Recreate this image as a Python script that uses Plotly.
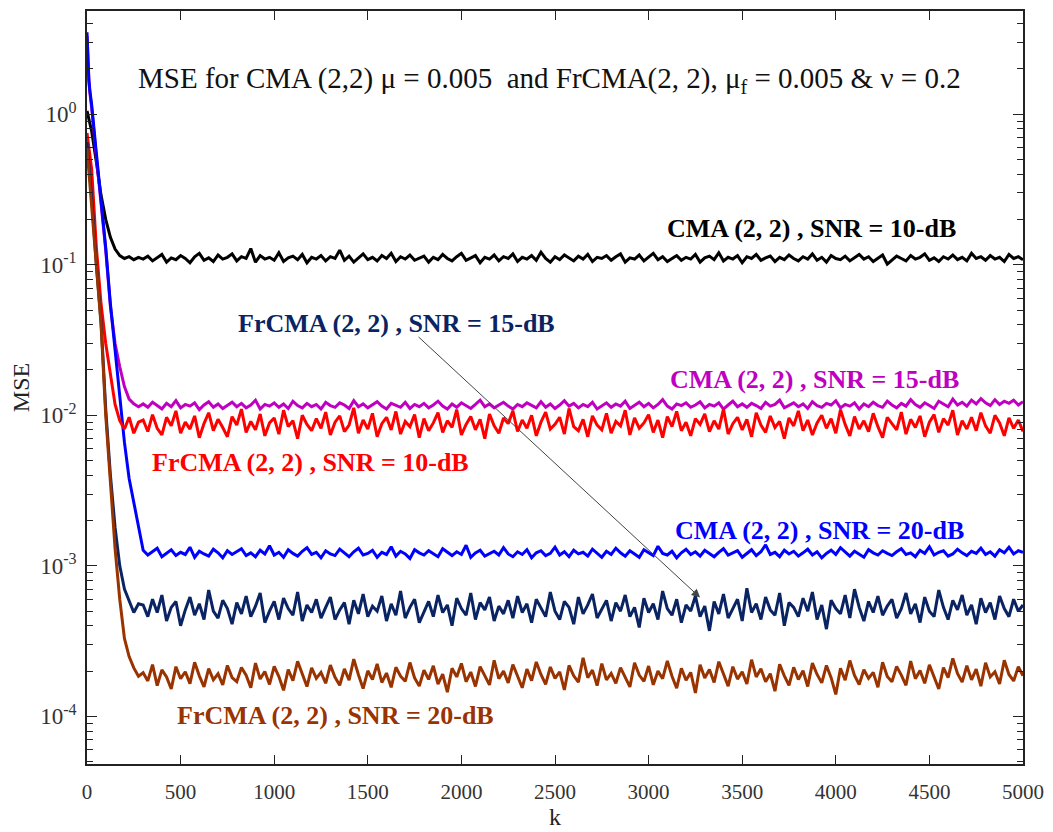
import plotly.graph_objects as go

# Iteration index: a few dense early samples, then every 25 iterations.
K_EARLY = [0, 5, 10, 15, 20]
K_STEP = 25
K_END = 5000
k = K_EARLY + list(range(25, K_END + 1, K_STEP))

# Learning curves (MSE), k = 0, 5, 10, 15, 20, 25, 50, ..., 275 (convergence phase)
CMA_10_TRANS = [1.05, 0.98, 0.92, 0.86, 0.81, 0.77, 0.48, 0.29, 0.20, 0.152, 0.127, 0.115, 0.110, 0.113, 0.108, 0.112]
CMA_15_TRANS = [3.3, 2.1, 1.65, 1.4, 1.25, 1.1, 0.52, 0.26, 0.125, 0.053, 0.030, 0.021, 0.0155, 0.0128, 0.0119, 0.0114]
CMA_20_TRANS = [3.5, 2.2, 1.7, 1.45, 1.3, 1.15, 0.55, 0.27, 0.13, 0.055, 0.027, 0.013, 0.0066, 0.0038, 0.0026, 0.0018]
FR_10_TRANS = [0.75, 0.68, 0.60, 0.54, 0.48, 0.43, 0.13, 0.055, 0.030, 0.019, 0.0118, 0.0092, 0.0081, 0.0097, 0.0076, 0.0090]
FR_15_TRANS = [0.65, 0.55, 0.47, 0.40, 0.33, 0.28, 0.10, 0.042, 0.011, 0.0040, 0.0018, 0.0010, 0.00070, 0.00058, 0.00049, 0.00056]
FR_20_TRANS = [0.60, 0.50, 0.43, 0.37, 0.31, 0.27, 0.095, 0.040, 0.010, 0.0036, 0.0013, 0.00060, 0.00033, 0.00025, 0.00021, 0.000185]

# Steady-state MSE, k = 300 ... 5000
CMA_10_SS = [
    0.109, 0.114, 0.106, 0.112, 0.117, 0.104, 0.111, 0.108, 0.115, 0.110, 0.103, 0.113, 0.119, 0.107, 0.111, 0.105, 0.116, 0.109, 0.112, 0.118,
    0.106, 0.113, 0.110, 0.128, 0.104, 0.115, 0.109, 0.112, 0.107, 0.120, 0.105, 0.111, 0.114, 0.108, 0.117, 0.103, 0.112, 0.109, 0.115, 0.106,
    0.113, 0.110, 0.125, 0.107, 0.114, 0.104, 0.111, 0.118, 0.108, 0.112, 0.106, 0.115, 0.110, 0.119, 0.105, 0.113, 0.109, 0.116, 0.107, 0.111,
    0.114, 0.104, 0.112, 0.108, 0.117, 0.110, 0.106, 0.113, 0.119, 0.107, 0.111, 0.115, 0.103, 0.112, 0.109, 0.116, 0.106, 0.113, 0.110, 0.118,
    0.105, 0.112, 0.109, 0.115, 0.107, 0.121, 0.110, 0.104, 0.113, 0.108, 0.116, 0.111, 0.106, 0.114, 0.109, 0.117, 0.105, 0.112, 0.110, 0.115,
    0.107, 0.113, 0.118, 0.104, 0.111, 0.109, 0.116, 0.106, 0.112, 0.119, 0.108, 0.113, 0.105, 0.110, 0.115, 0.107, 0.112, 0.109, 0.117, 0.104,
    0.111, 0.114, 0.108, 0.120, 0.106, 0.112, 0.109, 0.115, 0.103, 0.113, 0.110, 0.117, 0.107, 0.111, 0.114, 0.105, 0.112, 0.108, 0.116, 0.110,
    0.106, 0.113, 0.109, 0.118, 0.107, 0.112, 0.104, 0.115, 0.110, 0.108, 0.114, 0.106, 0.111, 0.117, 0.109, 0.113, 0.105, 0.110, 0.116, 0.101,
    0.108, 0.114, 0.110, 0.106, 0.115, 0.109, 0.112, 0.118, 0.107, 0.111, 0.105, 0.113, 0.109, 0.116, 0.108, 0.112, 0.106, 0.119, 0.110, 0.113,
    0.107, 0.115, 0.109, 0.112, 0.105, 0.117, 0.110, 0.113, 0.108,
]
CMA_15_SS = [
    0.0119, 0.0113, 0.0122, 0.0116, 0.0110, 0.0120, 0.0114, 0.0125, 0.0112, 0.0118, 0.0115, 0.0121, 0.0109, 0.0117, 0.0123, 0.0113, 0.0119, 0.0111, 0.0116, 0.0122,
    0.0114, 0.0120, 0.0112, 0.0117, 0.0126, 0.0110, 0.0118, 0.0115, 0.0121, 0.0113, 0.0119, 0.0111, 0.0124, 0.0116, 0.0112, 0.0120, 0.0114, 0.0118, 0.0110, 0.0122,
    0.0116, 0.0113, 0.0121, 0.0117, 0.0111, 0.0125, 0.0114, 0.0119, 0.0112, 0.0118, 0.0123, 0.0115, 0.0110, 0.0120, 0.0116, 0.0113, 0.0122, 0.0111, 0.0118, 0.0114,
    0.0120, 0.0112, 0.0117, 0.0124, 0.0115, 0.0110, 0.0119, 0.0113, 0.0121, 0.0116, 0.0111, 0.0118, 0.0126, 0.0114, 0.0119, 0.0112, 0.0117, 0.0122, 0.0115, 0.0110,
    0.0118, 0.0114, 0.0121, 0.0116, 0.0112, 0.0123, 0.0113, 0.0119, 0.0111, 0.0117, 0.0125, 0.0115, 0.0120, 0.0112, 0.0118, 0.0114, 0.0122, 0.0110, 0.0116, 0.0121,
    0.0113, 0.0119, 0.0115, 0.0124, 0.0111, 0.0117, 0.0122, 0.0114, 0.0120, 0.0112, 0.0118, 0.0127, 0.0115, 0.0110, 0.0119, 0.0116, 0.0121, 0.0113, 0.0117, 0.0123,
    0.0112, 0.0118, 0.0115, 0.0121, 0.0110, 0.0117, 0.0124, 0.0114, 0.0119, 0.0113, 0.0120, 0.0116, 0.0111, 0.0122, 0.0115, 0.0118, 0.0126, 0.0112, 0.0117, 0.0121,
    0.0114, 0.0119, 0.0111, 0.0123, 0.0116, 0.0113, 0.0120, 0.0117, 0.0125, 0.0112, 0.0118, 0.0115, 0.0121, 0.0110, 0.0119, 0.0114, 0.0122, 0.0116, 0.0113, 0.0124,
    0.0117, 0.0112, 0.0120, 0.0115, 0.0127, 0.0118, 0.0113, 0.0121, 0.0116, 0.0111, 0.0124, 0.0119, 0.0114, 0.0128, 0.0117, 0.0122, 0.0115, 0.0126, 0.0119, 0.0129,
    0.0121, 0.0116, 0.0127, 0.0118, 0.0124, 0.0120, 0.0126, 0.0117, 0.0123,
]
FR_10_SS = [
    0.0093, 0.0078, 0.0101, 0.0082, 0.0074, 0.0097, 0.0085, 0.0107, 0.0076, 0.0090, 0.0081, 0.0099, 0.0071, 0.0088, 0.0104, 0.0079, 0.0094, 0.0083, 0.0072, 0.0098,
    0.0086, 0.0110, 0.0077, 0.0091, 0.0080, 0.0102, 0.0073, 0.0089, 0.0096, 0.0075, 0.0108, 0.0084, 0.0092, 0.0070, 0.0100, 0.0087, 0.0079, 0.0095, 0.0082, 0.0105,
    0.0074, 0.0090, 0.0099, 0.0078, 0.0086, 0.0112, 0.0076, 0.0093, 0.0081, 0.0103, 0.0072, 0.0088, 0.0097, 0.0080, 0.0106, 0.0075, 0.0091, 0.0084, 0.0101, 0.0071,
    0.0095, 0.0079, 0.0089, 0.0104, 0.0077, 0.0092, 0.0083, 0.0109, 0.0074, 0.0087, 0.0098, 0.0080, 0.0094, 0.0070, 0.0102, 0.0085, 0.0076, 0.0096, 0.0088, 0.0107,
    0.0078, 0.0093, 0.0082, 0.0100, 0.0073, 0.0090, 0.0105, 0.0081, 0.0087, 0.0097, 0.0075, 0.0111, 0.0084, 0.0079, 0.0094, 0.0072, 0.0099, 0.0086, 0.0080, 0.0103,
    0.0076, 0.0091, 0.0085, 0.0108, 0.0074, 0.0096, 0.0082, 0.0089, 0.0101, 0.0077, 0.0093, 0.0071, 0.0098, 0.0084, 0.0106, 0.0079, 0.0090, 0.0073, 0.0095, 0.0087,
    0.0102, 0.0078, 0.0092, 0.0081, 0.0110, 0.0075, 0.0088, 0.0097, 0.0080, 0.0094, 0.0072, 0.0104, 0.0086, 0.0077, 0.0099, 0.0083, 0.0091, 0.0070, 0.0096, 0.0085,
    0.0107, 0.0079, 0.0093, 0.0074, 0.0089, 0.0100, 0.0082, 0.0095, 0.0076, 0.0109, 0.0087, 0.0073, 0.0098, 0.0081, 0.0092, 0.0078, 0.0103, 0.0084, 0.0071, 0.0097,
    0.0088, 0.0080, 0.0105, 0.0075, 0.0094, 0.0083, 0.0099, 0.0072, 0.0090, 0.0101, 0.0077, 0.0095, 0.0086, 0.0108, 0.0074, 0.0092, 0.0081, 0.0097, 0.0079, 0.0104,
    0.0085, 0.0076, 0.0100, 0.0089, 0.0073, 0.0096, 0.0082, 0.0093, 0.0078,
]
CMA_20_SS = [
    0.00127, 0.00118, 0.00124, 0.00131, 0.00115, 0.00121, 0.00128, 0.00117, 0.00123, 0.00119, 0.00133, 0.00114, 0.00125, 0.00120, 0.00116, 0.00129, 0.00122, 0.00113, 0.00126, 0.00119,
    0.00124, 0.00130, 0.00117, 0.00122, 0.00115, 0.00127, 0.00120, 0.00136, 0.00118, 0.00123, 0.00114, 0.00128, 0.00121, 0.00116, 0.00125, 0.00132, 0.00119, 0.00123, 0.00113, 0.00126,
    0.00120, 0.00117, 0.00129, 0.00122, 0.00115, 0.00124, 0.00131, 0.00118, 0.00121, 0.00127, 0.00114, 0.00123, 0.00119, 0.00134, 0.00116, 0.00125, 0.00120, 0.00112, 0.00128, 0.00122,
    0.00118, 0.00126, 0.00121, 0.00115, 0.00130, 0.00123, 0.00117, 0.00124, 0.00119, 0.00137, 0.00114, 0.00122, 0.00127, 0.00116, 0.00121, 0.00125, 0.00118, 0.00132, 0.00120, 0.00115,
    0.00124, 0.00119, 0.00128, 0.00113, 0.00122, 0.00126, 0.00117, 0.00121, 0.00133, 0.00118, 0.00124, 0.00115, 0.00127, 0.00120, 0.00123, 0.00116, 0.00129, 0.00121, 0.00114, 0.00125,
    0.00119, 0.00131, 0.00122, 0.00116, 0.00126, 0.00120, 0.00114, 0.00128, 0.00123, 0.00117, 0.00135, 0.00121, 0.00118, 0.00125, 0.00113, 0.00122, 0.00129, 0.00119, 0.00124, 0.00116,
    0.00127, 0.00120, 0.00115, 0.00123, 0.00130, 0.00118, 0.00122, 0.00126, 0.00114, 0.00121, 0.00128, 0.00117, 0.00124, 0.00138, 0.00119, 0.00123, 0.00115, 0.00127, 0.00120, 0.00125,
    0.00116, 0.00122, 0.00129, 0.00118, 0.00124, 0.00113, 0.00121, 0.00127, 0.00119, 0.00132, 0.00123, 0.00116, 0.00125, 0.00120, 0.00114, 0.00128, 0.00122, 0.00118, 0.00126, 0.00121,
    0.00117, 0.00124, 0.00130, 0.00119, 0.00122, 0.00115, 0.00127, 0.00121, 0.00134, 0.00118, 0.00123, 0.00126, 0.00116, 0.00120, 0.00129, 0.00122, 0.00117, 0.00125, 0.00121, 0.00131,
    0.00119, 0.00124, 0.00116, 0.00128, 0.00122, 0.00133, 0.00120, 0.00126, 0.00123,
]
FR_15_SS = [
    0.00055, 0.00046, 0.00060, 0.00049, 0.00064, 0.00043, 0.00053, 0.00058, 0.00040, 0.00051, 0.00062, 0.00047, 0.00056, 0.00044, 0.00069, 0.00050, 0.00045, 0.00059, 0.00052, 0.00041,
    0.00057, 0.00048, 0.00063, 0.00046, 0.00054, 0.00066, 0.00042, 0.00050, 0.00058, 0.00044, 0.00061, 0.00052, 0.00047, 0.00067, 0.00043, 0.00055, 0.00049, 0.00060, 0.00045, 0.00053,
    0.00062, 0.00044, 0.00051, 0.00057, 0.00041, 0.00059, 0.00048, 0.00065, 0.00046, 0.00054, 0.00050, 0.00063, 0.00043, 0.00056, 0.00047, 0.00068, 0.00045, 0.00053, 0.00060, 0.00042,
    0.00050, 0.00058, 0.00046, 0.00064, 0.00049, 0.00055, 0.00040, 0.00061, 0.00052, 0.00047, 0.00066, 0.00044, 0.00057, 0.00051, 0.00062, 0.00043, 0.00054, 0.00048, 0.00059, 0.00045,
    0.00063, 0.00049, 0.00056, 0.00042, 0.00060, 0.00052, 0.00046, 0.00067, 0.00050, 0.00044, 0.00058, 0.00053, 0.00041, 0.00062, 0.00048, 0.00055, 0.00065, 0.00045, 0.00051, 0.00059,
    0.00043, 0.00057, 0.00050, 0.00064, 0.00046, 0.00053, 0.00039, 0.00061, 0.00049, 0.00056, 0.00044, 0.00068, 0.00052, 0.00047, 0.00060, 0.00042, 0.00055, 0.00050, 0.00063, 0.00046,
    0.00054, 0.00037, 0.00058, 0.00048, 0.00065, 0.00045, 0.00052, 0.00060, 0.00043, 0.00071, 0.00049, 0.00056, 0.00044, 0.00062, 0.00051, 0.00047, 0.00066, 0.00040, 0.00057, 0.00053,
    0.00046, 0.00061, 0.00050, 0.00067, 0.00044, 0.00055, 0.00038, 0.00059, 0.00052, 0.00048, 0.00064, 0.00045, 0.00070, 0.00053, 0.00043, 0.00058, 0.00049, 0.00063, 0.00047, 0.00054,
    0.00060, 0.00045, 0.00052, 0.00066, 0.00048, 0.00056, 0.00042, 0.00062, 0.00050, 0.00046, 0.00069, 0.00053, 0.00044, 0.00059, 0.00051, 0.00064, 0.00047, 0.00055, 0.00041, 0.00061,
    0.00049, 0.00057, 0.00044, 0.00063, 0.00052, 0.00046, 0.00060, 0.00050, 0.00055,
]
FR_20_SS = [
    0.000195, 0.000172, 0.000221, 0.000160, 0.000204, 0.000183, 0.000152, 0.000214, 0.000178, 0.000198, 0.000165, 0.000229, 0.000186, 0.000157, 0.000208, 0.000175, 0.000192, 0.000162, 0.000218, 0.000181,
    0.000170, 0.000211, 0.000188, 0.000155, 0.000226, 0.000177, 0.000199, 0.000163, 0.000215, 0.000184, 0.000149, 0.000205, 0.000173, 0.000232, 0.000190, 0.000158, 0.000210, 0.000179, 0.000196, 0.000166,
    0.000219, 0.000182, 0.000161, 0.000207, 0.000174, 0.000240, 0.000189, 0.000153, 0.000201, 0.000176, 0.000223, 0.000168, 0.000194, 0.000156, 0.000212, 0.000185, 0.000171, 0.000228, 0.000180, 0.000159,
    0.000203, 0.000176, 0.000217, 0.000164, 0.000191, 0.000145, 0.000209, 0.000183, 0.000225, 0.000170, 0.000197, 0.000158, 0.000214, 0.000187, 0.000162, 0.000236, 0.000178, 0.000200, 0.000167, 0.000221,
    0.000184, 0.000155, 0.000206, 0.000173, 0.000230, 0.000190, 0.000163, 0.000213, 0.000179, 0.000198, 0.000150, 0.000218, 0.000186, 0.000169, 0.000245, 0.000181, 0.000203, 0.000160, 0.000224, 0.000175,
    0.000193, 0.000166, 0.000211, 0.000182, 0.000157, 0.000227, 0.000188, 0.000171, 0.000216, 0.000162, 0.000200, 0.000178, 0.000234, 0.000185, 0.000154, 0.000209, 0.000174, 0.000196, 0.000143, 0.000220,
    0.000180, 0.000205, 0.000168, 0.000231, 0.000189, 0.000159, 0.000214, 0.000177, 0.000198, 0.000164, 0.000238, 0.000183, 0.000207, 0.000170, 0.000192, 0.000147, 0.000222, 0.000186, 0.000161, 0.000212,
    0.000176, 0.000201, 0.000158, 0.000226, 0.000190, 0.000167, 0.000218, 0.000181, 0.000140, 0.000209, 0.000174, 0.000235, 0.000187, 0.000163, 0.000204, 0.000179, 0.000196, 0.000156, 0.000229, 0.000184,
    0.000170, 0.000215, 0.000188, 0.000161, 0.000233, 0.000178, 0.000202, 0.000166, 0.000220, 0.000185, 0.000152, 0.000211, 0.000181, 0.000243, 0.000193, 0.000169, 0.000217, 0.000175, 0.000206, 0.000159,
    0.000227, 0.000183, 0.000198, 0.000164, 0.000236, 0.000190, 0.000172, 0.000214, 0.000186,
]

SERIES = [
    # (values, colour)  -- drawing order
    (CMA_10_TRANS + CMA_10_SS, "#000000"),
    (CMA_15_TRANS + CMA_15_SS, "#c000c0"),
    (CMA_20_TRANS + CMA_20_SS, "#0000ff"),
    (FR_10_TRANS + FR_10_SS, "#ff0000"),
    (FR_15_TRANS + FR_15_SS, "#0a2463"),
    (FR_20_TRANS + FR_20_SS, "#993300"),
]

LABELS = [
    # (text, colour, x paper, y paper)
    ("CMA (2, 2) , SNR = 10-dB", "#000000", 0.774, 0.711),
    ("CMA (2, 2) , SNR = 15-dB", "#c000c0", 0.777, 0.511),
    ("CMA (2, 2) , SNR = 20-dB", "#0000ff", 0.783, 0.310),
    ("FrCMA (2, 2) , SNR = 15-dB", "#0a2463", 0.331, 0.585),
    ("FrCMA (2, 2) , SNR = 10-dB", "#ff0000", 0.239, 0.401),
    ("FrCMA (2, 2) , SNR = 20-dB", "#993300", 0.266, 0.0646),
]

X_TICKS = list(range(0, 5001, 500))
Y_TICKS = [1e-4, 1e-3, 1e-2, 1e-1, 1e0]
Y_EXP = ["-4", "-3", "-2", "-1", "0"]
Y_TICKTEXT = [f"10<sup>{e}</sup>" for e in Y_EXP]
Y_MINOR = [m * 10.0 ** e for e in range(-5, 1) for m in range(2, 10)]

SERIF = "Liberation Serif, Times New Roman, serif"

fig = go.Figure()
for vals, colour in SERIES:
    fig.add_trace(go.Scatter(x=k, y=vals, mode="lines",
                             line=dict(color=colour, width=3), showlegend=False))

for text, colour, xp, yp in LABELS:
    fig.add_annotation(text=f"<b>{text}</b>", x=xp, y=yp, xref="paper", yref="paper",
                       xanchor="center", yanchor="middle", showarrow=False,
                       font=dict(family=SERIF, size=26, color=colour))

fig.add_annotation(
    text="MSE for CMA (2,2) \u03bc = 0.005 \u00a0and FrCMA(2, 2), \u03bc<sub>f</sub> = 0.005 &amp; \u03bd = 0.2",
    x=0.494, y=0.909, xref="paper", yref="paper", xanchor="center", yanchor="middle",
    showarrow=False, font=dict(family=SERIF, size=29, color="#111111"))

# pointer from the FrCMA 15-dB label to its curve
fig.add_annotation(x=0.655, y=0.221, xref="paper", yref="paper", ax=-283, ay=-262,
                   showarrow=True, arrowhead=2, arrowsize=1.7, arrowwidth=1,
                   arrowcolor="#444444", text="")

axis_common = dict(showline=True, linecolor="#222222", linewidth=1.5, mirror="ticks",
                   ticks="inside", tickcolor="#222222", tickwidth=1.3, showgrid=False,
                   zeroline=False)

fig.update_xaxes(range=[0, 5000], tickmode="array", tickvals=X_TICKS, ticklen=9,
                 ticklabelstandoff=8,
                 tickfont=dict(family=SERIF, size=21, color="#333333"),
                 title=dict(text="k", font=dict(family=SERIF, size=24, color="#222222"), standoff=2),
                 **axis_common)
fig.update_yaxes(type="log", range=[-4.316, 0.685], tickmode="array", tickvals=Y_TICKS,
                 ticktext=Y_TICKTEXT, ticklen=10, ticklabelstandoff=4,
                 tickfont=dict(family=SERIF, size=23, color="#333333"),
                 minor=dict(ticks="inside", ticklen=6, tickcolor="#222222", tickmode="array",
                            tickvals=Y_MINOR, showgrid=False),
                 title=dict(text="MSE", font=dict(family=SERIF, size=24, color="#222222"), standoff=4),
                 **axis_common)

fig.update_layout(width=1053, height=832, margin=dict(l=87, r=26, t=9, b=64),
                  plot_bgcolor="white", paper_bgcolor="white")

fig.write_html("out.html")
